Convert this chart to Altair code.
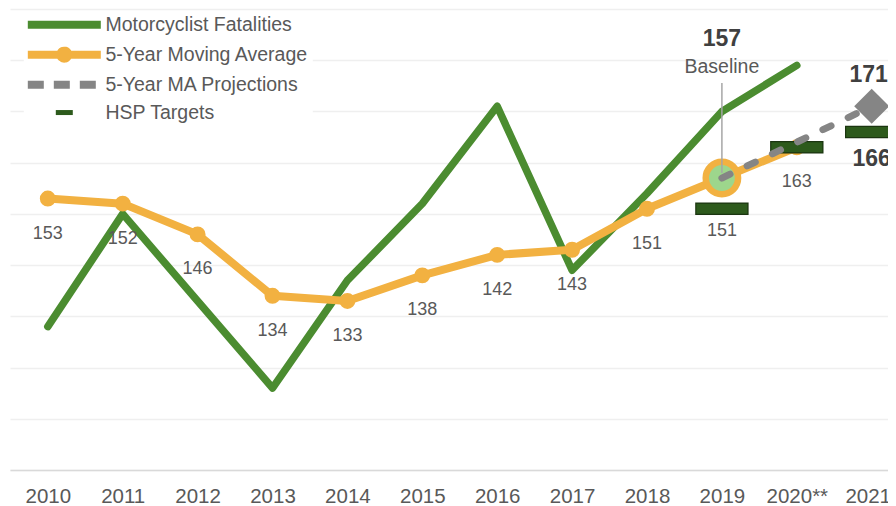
import json
import altair as alt
import pandas as pd

# ---------------- data ----------------
year_labels = ["2010", "2011", "2012", "2013", "2014", "2015", "2016",
               "2017", "2018", "2019", "2020**", "2021*"]

fat_years = ["2010", "2011", "2012", "2013", "2014", "2015", "2016",
             "2017", "2018", "2019", "2020**"]
fatalities = [128, 150, 133, 116, 137, 152, 171, 139, 154, 170, 179]

ma_years = ["2010", "2011", "2012", "2013", "2014", "2015", "2016",
            "2017", "2018", "2019", "2020**"]
moving_avg = [153, 152, 146, 134, 133, 138, 142, 143, 151, 157, 163]

proj_years = ["2019", "2020**", "2021*"]
projections = [157, 164, 171]

hsp_years = ["2019", "2020**", "2021*"]
hsp_targets = [151, 163, 166]
hsp_label_style = ["regular", "none", "bold"]

baseline_year = "2019"
baseline_value = 157
leader_range = [157.98, 175.55]   # leader line from the point up to the "Baseline" label

S_FAT = "Motorcyclist Fatalities"
S_MA = "5-Year Moving Average"
S_PROJ = "5-Year MA Projections"
S_HSP = "HSP Targets"
series = [S_FAT, S_MA, S_PROJ, S_HSP]

# ---------------- styling ----------------
FONT = "Liberation Sans, Arial, sans-serif"
GREEN = "#4B8C30"
ORANGE = "#F2B141"
GRAY = "#858585"
HSP_FILL = "#2D5A1C"
HSP_STROKE = "#1B3510"
BASE_FILL = "#9DD68C"
TXT = "#595959"
TXT_BOLD = "#404040"
series_colors = [GREEN, ORANGE, GRAY, HSP_FILL]

idx = {y: i for i, y in enumerate(year_labels)}

df_fat = pd.DataFrame({"x": [idx[y] for y in fat_years], "v": fatalities, "series": S_FAT})
df_ma = pd.DataFrame({"x": [idx[y] for y in ma_years], "v": moving_avg, "series": S_MA})
df_ma["lab"] = df_ma["v"].astype(str)
df_ma_lab = df_ma[df_ma["x"] != idx[baseline_year]]
df_proj = pd.DataFrame({"x": [idx[y] for y in proj_years], "v": projections, "series": S_PROJ})
df_proj_end = df_proj.tail(1).assign(lab=lambda d: d["v"].astype(str))
df_hsp = pd.DataFrame({"x": [idx[y] for y in hsp_years], "v": hsp_targets,
                       "series": S_HSP, "style": hsp_label_style})
df_hsp["lab"] = df_hsp["v"].astype(str)
df_hsp_reg = df_hsp[df_hsp["style"] == "regular"]
df_hsp_bold = df_hsp[df_hsp["style"] == "bold"]
df_base = pd.DataFrame({"x": [idx[baseline_year]], "v": [baseline_value],
                        "lab": [str(baseline_value)], "word": ["Baseline"]})
df_leader = pd.DataFrame({"x": [idx[baseline_year]], "v": [leader_range[0]], "v2": [leader_range[1]]})

# ---------------- scales / encodings ----------------
STEP = 74.9
PLOT_W = 878
X0 = -0.5047
X1 = X0 + PLOT_W / STEP

label_expr = json.dumps(year_labels) + "[datum.value]"

x_enc = alt.X(
    "x:Q",
    scale=alt.Scale(domain=[X0, X1], nice=False, zero=False),
    axis=alt.Axis(values=list(range(len(year_labels))), labelExpr=label_expr,
                  grid=False, ticks=False, tickSize=0, domain=True,
                  domainColor="#D9D9D9", domainWidth=1.5,
                  labelFont=FONT, labelFontSize=20.5, labelColor=TXT,
                  labelPadding=16.5, labelFlush=False, labelOverlap=False,
                  labelBound=False, title=None),
)
y_enc = alt.Y(
    "v:Q",
    scale=alt.Scale(domain=[100, 190], nice=False, zero=False),
    axis=alt.Axis(values=list(range(100, 191, 10)), labels=False, ticks=False,
                  domain=False, grid=True, gridColor="#EFEFEF", gridWidth=1.3,
                  title=None),
)

# legend symbol shapes (unit = 5.5 px with symbolSize 121)
path_line = "M-6.636,0H6.636"
path_ma = ("M-6.636,0H6.636M-0.727,0A0.727,0.727,0,1,1,0.727,0"
           "A0.727,0.727,0,1,1,-0.727,0Z")
path_hsp = "M-1.545,-0.4545H1.545V0.4545H-1.545Z"

shape_expr = (f"datum.value === '{S_MA}' ? '{path_ma}' : "
              f"datum.value === '{S_HSP}' ? '{path_hsp}' : '{path_line}'")
stroke_expr = (f"datum.value === '{S_FAT}' ? '{GREEN}' : "
               f"datum.value === '{S_MA}' ? '{ORANGE}' : "
               f"datum.value === '{S_PROJ}' ? '{GRAY}' : 'transparent'")
fill_expr = f"datum.value === '{S_HSP}' ? '{HSP_FILL}' : 'transparent'"
# the HSP symbol is a filled box only: its outline gets an empty dash pattern
dash_expr = (f"datum.value === '{S_PROJ}' ? [16, 10] : "
             f"datum.value === '{S_HSP}' ? [0, 1000] : [1, 0]")

legend = alt.Legend(
    title=None, orient="none", legendX=13.8, legendY=2, direction="vertical",
    labelFont=FONT, labelFontSize=19.5, labelColor=TXT, labelLimit=400,
    labelOffset=31.4, symbolOffset=26.75, symbolSize=121, symbolStrokeWidth=8,
    rowPadding=-7.1, padding=4, fillColor="white",
    symbolType={"expr": shape_expr},
    symbolStrokeColor={"expr": stroke_expr},
    symbolFillColor={"expr": fill_expr},
    symbolDash={"expr": dash_expr},
    symbolOpacity=1,
)
color_enc = alt.Color("series:N",
                      scale=alt.Scale(domain=series, range=series_colors),
                      legend=legend)

# ---------------- layers ----------------
fat_line = alt.Chart(df_fat).mark_line(
    strokeWidth=7.5, strokeCap="round", strokeJoin="round"
).encode(x=x_enc, y=y_enc, color=color_enc)

ma_line = alt.Chart(df_ma).mark_line(
    strokeWidth=8, strokeCap="round", strokeJoin="round"
).encode(x=x_enc, y=y_enc, color=color_enc)

ma_pts = alt.Chart(df_ma).mark_circle(size=254, color=ORANGE, opacity=1).encode(x=x_enc, y=y_enc)

ma_text = alt.Chart(df_ma_lab).mark_text(
    font=FONT, fontSize=18, color=TXT, dy=35, baseline="middle", align="center"
).encode(x=x_enc, y=y_enc, text="lab:N")

base_pt = alt.Chart(df_base).mark_point(
    shape="circle", size=1046, filled=True, fill=BASE_FILL, stroke=ORANGE,
    strokeWidth=6.5, opacity=1
).encode(x=x_enc, y=y_enc)

hsp_border = alt.Chart(df_hsp).mark_tick(
    orient="horizontal", size=53.4, thickness=12.4, color=HSP_STROKE, opacity=1
).encode(x=x_enc, y=y_enc)

hsp_ticks = alt.Chart(df_hsp).mark_tick(
    orient="horizontal", size=51, thickness=10, opacity=1
).encode(x=x_enc, y=y_enc, color=color_enc)

proj_line = alt.Chart(df_proj).mark_line(
    strokeWidth=7, strokeDash=[9, 19], strokeCap="round"
).encode(x=x_enc, y=y_enc, color=color_enc)

proj_diamond = alt.Chart(df_proj_end).mark_point(
    shape="diamond", size=1225, filled=True, color=GRAY, opacity=1
).encode(x=x_enc, y=y_enc)

leader = alt.Chart(df_leader).mark_rule(
    color="#A6A6A6", strokeWidth=1.5
).encode(x=x_enc, y=y_enc, y2=alt.Y2("v2:Q"))

base_num = alt.Chart(df_base).mark_text(
    font=FONT, fontSize=23, fontWeight="bold", color=TXT_BOLD, dy=-138.8,
    baseline="middle", align="center"
).encode(x=x_enc, y=y_enc, text="lab:N")

base_word = alt.Chart(df_base).mark_text(
    font=FONT, fontSize=19.5, color=TXT, dy=-111.2, baseline="middle", align="center"
).encode(x=x_enc, y=y_enc, text="word:N")

proj_text = alt.Chart(df_proj_end).mark_text(
    font=FONT, fontSize=23, fontWeight="bold", color=TXT_BOLD, dy=-31.7, dx=-3,
    baseline="middle", align="center"
).encode(x=x_enc, y=y_enc, text="lab:N")

hsp_text_reg = alt.Chart(df_hsp_reg).mark_text(
    font=FONT, fontSize=18, color=TXT, dy=21.8, baseline="middle", align="center"
).encode(x=x_enc, y=y_enc, text="lab:N")

hsp_text_bold = alt.Chart(df_hsp_bold).mark_text(
    font=FONT, fontSize=23, fontWeight="bold", color=TXT_BOLD, dy=26.8,
    baseline="middle", align="center"
).encode(x=x_enc, y=y_enc, text="lab:N")

chart = alt.layer(
    fat_line, ma_line, ma_pts, ma_text, base_pt, hsp_border, hsp_ticks, proj_line,
    proj_diamond, leader, base_num, base_word, proj_text, hsp_text_reg, hsp_text_bold
).properties(
    width=PLOT_W, height=461,
    padding={"left": 2, "top": 1, "right": 0, "bottom": 36},
    autosize=alt.AutoSizeParams(type="none"),
    background="white",
).configure_view(stroke=None)

chart.save("out.html", embed_options={"renderer": "svg", "actions": False})
